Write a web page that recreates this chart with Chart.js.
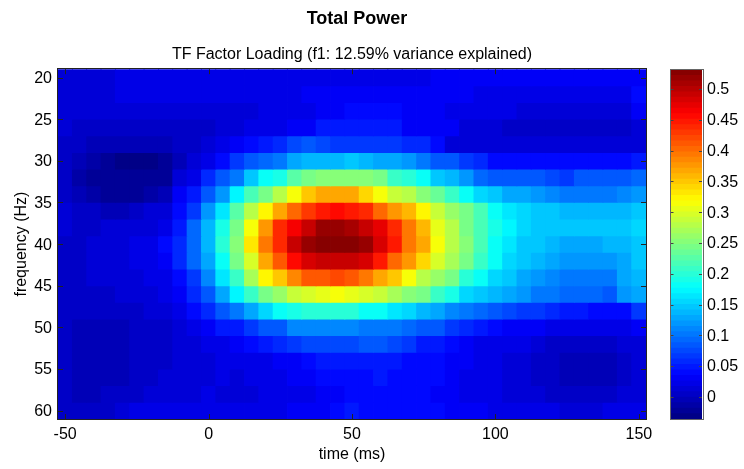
<!DOCTYPE html>
<html><head><meta charset="utf-8">
<script src="https://cdn.jsdelivr.net/npm/chart.js@4/dist/chart.umd.min.js"></script>
<style>html,body{margin:0;padding:0;background:#fff;width:744px;height:469px;overflow:hidden}
canvas{position:absolute;top:0}
</style></head><body>
<canvas id="main" style="left:0" width="660" height="469"></canvas>
<canvas id="bar" style="left:660px" width="84" height="469"></canvas>
<script>
const times=[-50,-45,-40,-35,-30,-25,-20,-15,-10,-5,0,5,10,15,20,25,30,35,40,45,50,55,60,65,70,75,80,85,90,95,100,105,110,115,120,125,130,135,140,145,150];
const freqs=[20,22,24,26,28,30,32,34,36,38,40,42,44,46,48,50,52,54,56,58,60];
const f20=[.012,.012,.012,.012,.018,.018,.018,.022,.022,.022,.022,.022,.022,.022,.022,.022,.022,.022,.022,.022,.022,.025,.025,.025,.025,.025,.032,.032,.032,.032,.032,.032,.032,.032,.032,.032,.032,.032,.032,.032,.032];
const f22=[.012,.012,.012,.012,.018,.018,.018,.018,.018,.018,.018,.018,.018,.022,.022,.022,.022,.028,.028,.03,.032,.032,.032,.028,.028,.028,.028,.028,.028,.025,.025,.025,.025,.025,.025,.025,.025,.025,.025,.025,.035];
const f24=[.012,.012,.012,.012,.012,.012,.012,.012,.01,.01,.01,.015,.015,.015,.022,.022,.022,.022,.032,.034,.036,.038,.038,.036,.03,.03,.03,.02,.02,.02,.02,.02,.012,.012,.012,.012,.012,.01,.01,.01,.03];
const f26=[.012,.008,.008,.008,.005,.005,.005,.005,.003,.003,.003,.012,.012,.022,.022,.022,.03,.03,.045,.045,.05,.052,.052,.05,.03,.03,.03,.03,.012,.012,.012,.005,.005,.005,.005,.005,.005,.005,.005,.005,.012];
const f28=[.008,.002,-.002,-.002,-.004,-.004,-.004,-.004,0,.004,.01,.02,.028,.035,.05,.055,.075,.08,.075,.07,.07,.07,.07,.065,.055,.055,.04,.015,.015,.015,.015,.015,.015,.015,.015,.015,.015,.015,.015,.015,.015];
const f30=[.005,-.005,-.015,-.02,-.028,-.028,-.028,-.02,-.005,.01,.02,.035,.065,.085,.095,.105,.13,.135,.135,.14,.145,.14,.13,.125,.115,.105,.085,.08,.07,.06,.04,.04,.04,.04,.035,.035,.035,.04,.04,.04,.05];
const f32=[.005,-.01,-.02,-.025,-.025,-.025,-.025,-.02,.01,.025,.06,.085,.105,.145,.178,.19,.225,.24,.25,.25,.25,.25,.24,.21,.195,.178,.145,.135,.115,.095,.085,.08,.08,.08,.075,.07,.085,.085,.085,.085,.09];
const f34=[.008,-.008,-.01,-.02,-.02,-.02,-.012,-.005,.03,.05,.085,.115,.17,.215,.245,.28,.318,.345,.365,.365,.365,.34,.315,.29,.275,.25,.23,.205,.18,.155,.15,.125,.125,.12,.11,.105,.105,.105,.105,.11,.12];
const f36=[.01,.003,.003,-.002,-.002,.005,.01,.015,.04,.07,.115,.165,.225,.275,.32,.37,.405,.43,.445,.46,.445,.435,.405,.38,.36,.32,.29,.265,.245,.22,.185,.16,.155,.15,.145,.14,.135,.135,.135,.14,.15];
const f38=[.01,.008,.008,.01,.012,.012,.016,.025,.05,.09,.135,.19,.245,.315,.38,.435,.465,.495,.515,.515,.505,.495,.475,.435,.39,.36,.305,.28,.245,.22,.19,.17,.155,.15,.15,.15,.15,.15,.15,.15,.155];
const f40=[.008,.008,.01,.012,.015,.018,.022,.035,.055,.095,.14,.195,.25,.335,.39,.44,.49,.515,.53,.53,.525,.515,.48,.445,.395,.37,.318,.28,.25,.22,.185,.165,.15,.145,.135,.13,.13,.13,.135,.14,.15];
const f42=[.008,.008,.01,.012,.015,.018,.022,.03,.055,.09,.13,.18,.245,.3,.37,.41,.455,.485,.495,.495,.49,.48,.445,.405,.38,.34,.295,.27,.245,.21,.18,.155,.145,.135,.125,.12,.115,.115,.12,.13,.145];
const f44=[.006,.006,.01,.012,.014,.016,.02,.025,.04,.07,.11,.165,.21,.27,.32,.35,.385,.41,.415,.42,.415,.39,.37,.35,.318,.28,.265,.24,.2,.18,.155,.145,.125,.12,.11,.105,.105,.105,.105,.125,.14];
const f46=[.004,.004,.005,.006,.01,.012,.015,.02,.03,.055,.08,.125,.175,.205,.24,.26,.29,.3,.305,.31,.305,.3,.29,.27,.255,.24,.21,.19,.155,.145,.135,.125,.115,.105,.1,.095,.09,.09,.085,.115,.13];
const f48=[.004,.004,.004,.005,.006,.008,.01,.015,.022,.035,.06,.08,.105,.125,.155,.178,.19,.195,.2,.2,.195,.178,.178,.165,.155,.14,.125,.11,.1,.09,.085,.078,.07,.065,.055,.045,.045,.042,.04,.04,.07];
const f50=[.004,-.004,-.006,-.006,-.004,.002,.004,.006,.012,.018,.03,.045,.05,.07,.08,.085,.11,.11,.11,.11,.11,.105,.105,.105,.095,.085,.08,.07,.06,.045,.035,.032,.03,.028,.025,.02,.018,.018,.02,.025,.03];
const f52=[.004,-.004,-.008,-.008,-.004,.002,.004,.006,.01,.014,.018,.022,.03,.04,.045,.055,.07,.075,.075,.075,.075,.08,.08,.078,.065,.05,.045,.035,.03,.025,.02,.02,.018,.012,.008,.005,.002,.002,.005,.01,.015];
const f54=[.004,-.004,-.008,-.008,-.004,.002,.004,.007,.01,.013,.016,.02,.022,.024,.026,.03,.032,.036,.045,.05,.05,.05,.05,.045,.042,.04,.035,.032,.028,.022,.02,.015,.012,.008,.002,-.002,-.004,-.004,-.002,.005,.012];
const f56=[.004,-.004,-.006,-.006,-.002,.003,.005,.009,.012,.014,.016,.018,.016,.018,.022,.024,.028,.03,.035,.035,.04,.04,.045,.042,.038,.038,.035,.03,.022,.02,.018,.015,.01,.005,0,-.005,-.006,-.006,-.004,.006,.012];
const f58=[.004,-.002,-.002,0,.006,.008,.01,.012,.014,.016,.018,.016,.016,.016,.018,.02,.022,.026,.03,.03,.038,.04,.04,.04,.036,.035,.033,.028,.024,.022,.02,.016,.012,.01,.008,.005,.005,.006,.006,.01,.015];
const f60=[.006,.004,.005,.008,.012,.018,.02,.022,.024,.026,.026,.024,.022,.024,.024,.026,.03,.03,.034,.04,.045,.042,.04,.04,.04,.035,.035,.032,.03,.028,.026,.024,.022,.02,.018,.016,.016,.016,.018,.022,.026];
const rows=[f20,f22,f24,f26,f28,f30,f32,f34,f36,f38,f40,f42,f44,f46,f48,f50,f52,f54,f56,f58,f60];
const climMin=-0.036, climMax=0.531;
const FONT='"Liberation Sans", Arial, sans-serif';
const LEVELS=64;
function jet(t){
  const c=x=>Math.round(255*Math.max(0,Math.min(1,x)));
  return `rgb(${c(1.5-Math.abs(4*t-3))},${c(1.5-Math.abs(4*t-2))},${c(1.5-Math.abs(4*t-1))})`;
}
function colorOf(v){
  let i=Math.floor((v-climMin)/(climMax-climMin)*LEVELS);
  i=Math.max(0,Math.min(LEVELS-1,i));
  return jet((i+0.5)/LEVELS);
}
function nudgeLabels(s){
  if(s._nudged)return;s._nudged=true;
  const orig=s._computeLabelItems;
  s._computeLabelItems=function(a){
    return orig.call(this,a).map(it=>{it.options.translation[1]+=1;return it;});
  };
}
const frame={id:'frame',
 afterLayout(chart,args,o){
  if(o.titleShift&&chart.titleBlock){chart.titleBlock.left+=o.titleShift;chart.titleBlock.right+=o.titleShift;}
 },
 afterDatasetsDraw(chart,args,o){
  const {ctx,chartArea:a}=chart;
  ctx.save();
  ctx.strokeStyle=o.tickColor;ctx.lineWidth=1;ctx.beginPath();
  const xs=chart.scales.x,ys=chart.scales.y;
  if(o.xTicks){xs.ticks.forEach((t,i)=>{if(t.label==='')return;
    const p=Math.round(xs.getPixelForTick(i))+.5;
    ctx.moveTo(p,a.top);ctx.lineTo(p,a.top+o.len);ctx.moveTo(p,a.bottom);ctx.lineTo(p,a.bottom-o.len);});}
  ys.ticks.forEach((t,i)=>{
    const p=Math.round(ys.getPixelForTick(i))+.5;
    ctx.moveTo(a.left,p);ctx.lineTo(a.left+o.len,p);ctx.moveTo(a.right,p);ctx.lineTo(a.right-o.len,p);});
  ctx.stroke();
  ctx.strokeStyle=o.color;
  ctx.strokeRect(Math.round(a.left)-.5,Math.round(a.top)-.5,Math.round(a.right-a.left)+1,Math.round(a.bottom-a.top)+1);
  ctx.restore();
}};
new Chart(document.getElementById('main'),{
  type:'bar',
  data:{labels:times,datasets:freqs.map((f,r)=>({
    label:f+' Hz',
    data:rows[r].map(()=>[f-1,f+1]),
    backgroundColor:rows[r].map(colorOf),
    borderWidth:0,inflateAmount:0.4,grouped:false,barPercentage:1,categoryPercentage:1
  }))},
  options:{responsive:false,animation:false,
    layout:{padding:{left:0,right:14,top:0,bottom:0}},
    plugins:{legend:{display:false},tooltip:{enabled:false},
      title:{display:true,fullSize:false,text:'Total Power',color:'#000',font:{family:FONT,size:18,weight:'bold'},padding:{top:8,bottom:15}},
      subtitle:{display:true,fullSize:false,text:'TF Factor Loading (f1: 12.59% variance explained)',color:'#000',font:{family:FONT,size:16,weight:'normal'},padding:{top:0,bottom:5.4}},
      frame:{color:'#222',tickColor:'#222',len:5,xTicks:true,titleShift:5}},
    scales:{
      x:{type:'category',grid:{display:false,drawTicks:false},border:{display:false},
        ticks:{autoSkip:false,maxRotation:0,color:'#000',font:{family:FONT,size:16},padding:6,
          callback(v,i){const t=times[i];return t%50===0?String(t):'';}},
        title:{display:true,text:'time (ms)',color:'#000',font:{family:FONT,size:16},padding:{top:2,bottom:5}},
        afterFit(s){s.height=50;}},
      y:{type:'linear',reverse:true,min:19,max:61,grid:{display:false,drawTicks:false},border:{display:false},
        ticks:{stepSize:5,includeBounds:false,color:'#000',font:{family:FONT,size:16},padding:6},
        title:{display:true,text:'frequency (Hz)',color:'#000',font:{family:FONT,size:16},padding:{top:12,bottom:0}},
        afterFit(s){s.width=58;nudgeLabels(s);}}
    }},
  plugins:[frame]
});
const levelsIdx=Array.from({length:LEVELS},(_,i)=>i);
const step=(climMax-climMin)/LEVELS;
new Chart(document.getElementById('bar'),{
  type:'bar',
  data:{labels:['colorbar'],datasets:levelsIdx.map(i=>({
    data:[[climMin+i*step,climMin+(i+1)*step]],
    backgroundColor:jet((i+0.5)/LEVELS),
    borderWidth:0,inflateAmount:0.4,grouped:false,barPercentage:1,categoryPercentage:1
  }))},
  options:{responsive:false,animation:false,
    layout:{padding:{left:10.5,right:0,top:70,bottom:50}},
    plugins:{legend:{display:false},tooltip:{enabled:false},
      frame:{color:'#666',tickColor:'#444',len:3,xTicks:false}},
    scales:{
      x:{type:'category',display:false,grid:{display:false}},
      y:{type:'linear',position:'right',min:climMin,max:climMax,grid:{display:false,drawTicks:false},border:{display:false},
        ticks:{stepSize:0.05,includeBounds:false,color:'#000',font:{family:FONT,size:16},padding:5,
          callback(v){return String(Math.round(v*100)/100);}},
        afterFit(s){s.width=42;nudgeLabels(s);}}
    }},
  plugins:[frame]
});
</script></body></html>
